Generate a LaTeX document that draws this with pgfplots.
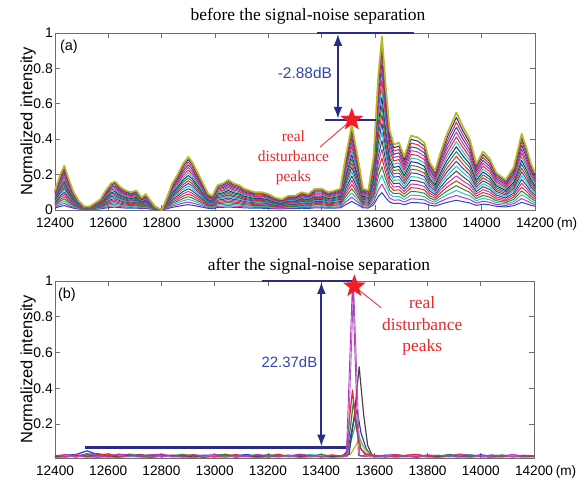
\documentclass[border=0pt]{standalone}
\usepackage{pgfplots}
\pgfplotsset{compat=1.18}
\usepackage{pgfplotstable}
\usepackage{fontspec}
\setmainfont{Liberation Serif}
\setsansfont{Liberation Sans}
\usetikzlibrary{arrows.meta}

\definecolor{mblue}{RGB}{35,70,190}
\definecolor{mdblue}{RGB}{30,40,150}
\definecolor{mgreen}{RGB}{30,140,60}
\definecolor{mred}{RGB}{230,40,40}
\definecolor{mcyan}{RGB}{40,190,190}
\definecolor{mmag}{RGB}{190,50,190}
\definecolor{molive}{RGB}{185,185,40}
\definecolor{mgray}{RGB}{70,70,70}
\definecolor{mpurple}{RGB}{170,90,200}
\definecolor{navy}{RGB}{40,45,140}
\definecolor{lblue}{RGB}{50,70,170}
\definecolor{starred}{RGB}{240,30,40}
\definecolor{axgray}{RGB}{110,110,110}

\pgfdeclareplotmark{bigstar}{%
  \pgfpathmoveto{\pgfpointpolar{90}{12bp}}%
  \pgfpathlineto{\pgfpointpolar{126}{5bp}}%
  \pgfpathlineto{\pgfpointpolar{162}{12bp}}%
  \pgfpathlineto{\pgfpointpolar{198}{5bp}}%
  \pgfpathlineto{\pgfpointpolar{234}{12bp}}%
  \pgfpathlineto{\pgfpointpolar{270}{5bp}}%
  \pgfpathlineto{\pgfpointpolar{306}{12bp}}%
  \pgfpathlineto{\pgfpointpolar{342}{5bp}}%
  \pgfpathlineto{\pgfpointpolar{18}{12bp}}%
  \pgfpathlineto{\pgfpointpolar{54}{5bp}}%
  \pgfpathclose
  \pgfusepathqfill
}

\pgfplotsset{
  myax/.style={
    scale only axis, height=177bp,
    xmin=12400, xmax=14200,
    xtick={12400,12600,12800,13000,13200,13400,13600,13800,14000,14200},
    scaled x ticks=false,
    axis line style={draw=axgray, line width=0.8pt},
    tick style={draw=axgray, line width=0.6pt},
    major tick length=5bp,
    tick align=inside,
    xticklabel style={font=\fontsize{13.7}{16}\selectfont\sffamily, text=black, yshift=-4bp,
      /pgf/number format/fixed, /pgf/number format/precision=0},
    yticklabel style={font=\fontsize{14}{16}\selectfont\sffamily, text=black, inner sep=2bp},
    /pgf/number format/assume math mode=true,
    /pgf/number format/1000 sep={},
    clip=false,
    every axis plot/.append style={line width=1.0pt, line join=round},
  }
}

\pgfplotstableread{
x e f95 f90 f80 f70 f60 f50 f40 f30 f20 f10
12400 0.11 0.1045 0.099 0.088 0.077 0.066 0.055 0.044 0.033 0.022 0.011
12420 0.20 0.19 0.18 0.16 0.14 0.12 0.10 0.08 0.06 0.04 0.02
12435 0.25 0.2375 0.225 0.20 0.175 0.15 0.125 0.10 0.075 0.05 0.025
12450 0.18 0.171 0.162 0.144 0.126 0.108 0.09 0.072 0.054 0.036 0.018
12470 0.10 0.095 0.09 0.08 0.07 0.06 0.05 0.04 0.03 0.02 0.01
12490 0.05 0.0475 0.045 0.04 0.035 0.03 0.025 0.02 0.015 0.01 0.005
12510 0.02 0.019 0.018 0.016 0.014 0.012 0.01 0.008 0.006 0.004 0.002
12530 0.02 0.019 0.018 0.016 0.014 0.012 0.01 0.008 0.006 0.004 0.002
12550 0.04 0.038 0.036 0.032 0.028 0.024 0.02 0.016 0.012 0.008 0.004
12570 0.06 0.057 0.054 0.048 0.042 0.036 0.03 0.024 0.018 0.012 0.006
12590 0.11 0.1045 0.099 0.088 0.077 0.066 0.055 0.044 0.033 0.022 0.011
12610 0.15 0.1425 0.135 0.12 0.105 0.09 0.075 0.06 0.045 0.03 0.015
12625 0.16 0.152 0.144 0.128 0.112 0.096 0.08 0.064 0.048 0.032 0.016
12645 0.13 0.1235 0.117 0.104 0.091 0.078 0.065 0.052 0.039 0.026 0.013
12665 0.11 0.1045 0.099 0.088 0.077 0.066 0.055 0.044 0.033 0.022 0.011
12685 0.10 0.095 0.09 0.08 0.07 0.06 0.05 0.04 0.03 0.02 0.01
12705 0.11 0.1045 0.099 0.088 0.077 0.066 0.055 0.044 0.033 0.022 0.011
12725 0.07 0.0665 0.063 0.056 0.049 0.042 0.035 0.028 0.021 0.014 0.007
12740 0.09 0.0855 0.081 0.072 0.063 0.054 0.045 0.036 0.027 0.018 0.009
12755 0.06 0.057 0.054 0.048 0.042 0.036 0.03 0.024 0.018 0.012 0.006
12775 0.02 0.019 0.018 0.016 0.014 0.012 0.01 0.008 0.006 0.004 0.002
12800 0 0 0 0 0 0 0 0 0 0 0
12820 0.07 0.0665 0.063 0.056 0.049 0.042 0.035 0.028 0.021 0.014 0.007
12840 0.15 0.1425 0.135 0.12 0.105 0.09 0.075 0.06 0.045 0.03 0.015
12860 0.20 0.19 0.18 0.16 0.14 0.12 0.10 0.08 0.06 0.04 0.02
12880 0.26 0.247 0.234 0.208 0.182 0.156 0.13 0.104 0.078 0.052 0.026
12900 0.30 0.285 0.27 0.24 0.21 0.18 0.15 0.12 0.09 0.06 0.03
12915 0.27 0.2565 0.243 0.216 0.189 0.162 0.135 0.108 0.081 0.054 0.027
12935 0.21 0.1995 0.189 0.168 0.147 0.126 0.105 0.084 0.063 0.042 0.021
12955 0.15 0.1425 0.135 0.12 0.105 0.09 0.075 0.06 0.045 0.03 0.015
12975 0.09 0.0855 0.081 0.072 0.063 0.054 0.045 0.036 0.027 0.018 0.009
12990 0.08 0.076 0.072 0.064 0.056 0.048 0.04 0.032 0.024 0.016 0.008
13010 0.14 0.133 0.126 0.112 0.098 0.084 0.07 0.056 0.042 0.028 0.014
13030 0.15 0.1425 0.135 0.12 0.105 0.09 0.075 0.06 0.045 0.03 0.015
13050 0.17 0.1615 0.153 0.136 0.119 0.102 0.085 0.068 0.051 0.034 0.017
13070 0.15 0.1425 0.135 0.12 0.105 0.09 0.075 0.06 0.045 0.03 0.015
13090 0.14 0.133 0.126 0.112 0.098 0.084 0.07 0.056 0.042 0.028 0.014
13110 0.12 0.114 0.108 0.096 0.084 0.072 0.06 0.048 0.036 0.024 0.012
13130 0.11 0.1045 0.099 0.088 0.077 0.066 0.055 0.044 0.033 0.022 0.011
13150 0.10 0.095 0.09 0.08 0.07 0.06 0.05 0.04 0.03 0.02 0.01
13175 0.10 0.095 0.09 0.08 0.07 0.06 0.05 0.04 0.03 0.02 0.01
13200 0.09 0.0855 0.081 0.072 0.063 0.054 0.045 0.036 0.027 0.018 0.009
13225 0.07 0.0665 0.063 0.056 0.049 0.042 0.035 0.028 0.021 0.014 0.007
13250 0.06 0.057 0.054 0.048 0.042 0.036 0.03 0.024 0.018 0.012 0.006
13275 0.08 0.076 0.072 0.064 0.056 0.048 0.04 0.032 0.024 0.016 0.008
13300 0.08 0.076 0.072 0.064 0.056 0.048 0.04 0.032 0.024 0.016 0.008
13325 0.10 0.095 0.09 0.08 0.07 0.06 0.05 0.04 0.03 0.02 0.01
13350 0.09 0.0855 0.081 0.072 0.063 0.054 0.045 0.036 0.027 0.018 0.009
13375 0.12 0.114 0.108 0.096 0.084 0.072 0.06 0.048 0.036 0.024 0.012
13400 0.12 0.114 0.108 0.096 0.084 0.072 0.06 0.048 0.036 0.024 0.012
13425 0.10 0.095 0.09 0.08 0.07 0.06 0.05 0.04 0.03 0.02 0.01
13450 0.11 0.1045 0.099 0.088 0.077 0.066 0.055 0.044 0.033 0.022 0.011
13470 0.12 0.114 0.108 0.096 0.084 0.072 0.06 0.048 0.036 0.024 0.012
13490 0.30 0.285 0.27 0.24 0.21 0.18 0.15 0.12 0.09 0.06 0.03
13513 0.48 0.456 0.432 0.384 0.336 0.288 0.24 0.192 0.144 0.096 0.048
13535 0.30 0.285 0.27 0.24 0.21 0.18 0.15 0.12 0.09 0.06 0.03
13555 0.12 0.114 0.108 0.096 0.084 0.072 0.06 0.048 0.036 0.024 0.012
13575 0.11 0.1045 0.099 0.088 0.077 0.066 0.055 0.044 0.033 0.022 0.011
13595 0.30 0.285 0.27 0.24 0.21 0.18 0.15 0.12 0.09 0.06 0.03
13612 0.75 0.7125 0.675 0.60 0.525 0.45 0.375 0.30 0.225 0.15 0.075
13626 0.98 0.931 0.882 0.784 0.686 0.588 0.49 0.392 0.294 0.196 0.098
13640 0.70 0.665 0.63 0.56 0.49 0.42 0.35 0.28 0.21 0.14 0.07
13655 0.45 0.4275 0.405 0.36 0.315 0.27 0.225 0.18 0.135 0.09 0.045
13670 0.37 0.3515 0.333 0.296 0.259 0.222 0.185 0.148 0.111 0.074 0.037
13690 0.38 0.361 0.342 0.304 0.266 0.228 0.19 0.152 0.114 0.076 0.038
13710 0.30 0.285 0.27 0.24 0.21 0.18 0.15 0.12 0.09 0.06 0.03
13735 0.42 0.399 0.378 0.336 0.294 0.252 0.21 0.168 0.126 0.084 0.042
13760 0.41 0.3895 0.369 0.328 0.287 0.246 0.205 0.164 0.123 0.082 0.041
13785 0.38 0.361 0.342 0.304 0.266 0.228 0.19 0.152 0.114 0.076 0.038
13805 0.27 0.2565 0.243 0.216 0.189 0.162 0.135 0.108 0.081 0.054 0.027
13825 0.22 0.209 0.198 0.176 0.154 0.132 0.11 0.088 0.066 0.044 0.022
13845 0.32 0.304 0.288 0.256 0.224 0.192 0.16 0.128 0.096 0.064 0.032
13870 0.43 0.4085 0.387 0.344 0.301 0.258 0.215 0.172 0.129 0.086 0.043
13905 0.55 0.5225 0.495 0.44 0.385 0.33 0.275 0.22 0.165 0.11 0.055
13930 0.47 0.4465 0.423 0.376 0.329 0.282 0.235 0.188 0.141 0.094 0.047
13955 0.40 0.38 0.36 0.32 0.28 0.24 0.20 0.16 0.12 0.08 0.04
13980 0.26 0.247 0.234 0.208 0.182 0.156 0.13 0.104 0.078 0.052 0.026
14005 0.33 0.3135 0.297 0.264 0.231 0.198 0.165 0.132 0.099 0.066 0.033
14030 0.29 0.2755 0.261 0.232 0.203 0.174 0.145 0.116 0.087 0.058 0.029
14055 0.21 0.1995 0.189 0.168 0.147 0.126 0.105 0.084 0.063 0.042 0.021
14090 0.17 0.1615 0.153 0.136 0.119 0.102 0.085 0.068 0.051 0.034 0.017
14120 0.24 0.228 0.216 0.192 0.168 0.144 0.12 0.096 0.072 0.048 0.024
14150 0.43 0.4085 0.387 0.344 0.301 0.258 0.215 0.172 0.129 0.086 0.043
14170 0.34 0.323 0.306 0.272 0.238 0.204 0.17 0.136 0.102 0.068 0.034
14185 0.26 0.247 0.234 0.208 0.182 0.156 0.13 0.104 0.078 0.052 0.026
14200 0.21 0.1995 0.189 0.168 0.147 0.126 0.105 0.084 0.063 0.042 0.021
}\tabA

\pgfplotstableread{
x g85 g75 g65 g55 g45 g35 g25 g15
12400 0.0935 0.0825 0.0715 0.0605 0.0495 0.0385 0.0275 0.0165
12420 0.17 0.15 0.13 0.11 0.09 0.07 0.05 0.03
12435 0.2125 0.1875 0.1625 0.1375 0.1125 0.0875 0.0625 0.0375
12450 0.153 0.135 0.117 0.099 0.081 0.063 0.045 0.027
12470 0.085 0.075 0.065 0.055 0.045 0.035 0.025 0.015
12490 0.0425 0.0375 0.0325 0.0275 0.0225 0.0175 0.0125 0.0075
12510 0.017 0.015 0.013 0.011 0.009 0.007 0.005 0.003
12530 0.017 0.015 0.013 0.011 0.009 0.007 0.005 0.003
12550 0.034 0.03 0.026 0.022 0.018 0.014 0.01 0.006
12570 0.051 0.045 0.039 0.033 0.027 0.021 0.015 0.009
12590 0.0935 0.0825 0.0715 0.0605 0.0495 0.0385 0.0275 0.0165
12610 0.1275 0.1125 0.0975 0.0825 0.0675 0.0525 0.0375 0.0225
12625 0.136 0.12 0.104 0.088 0.072 0.056 0.04 0.024
12645 0.1105 0.0975 0.0845 0.0715 0.0585 0.0455 0.0325 0.0195
12665 0.0935 0.0825 0.0715 0.0605 0.0495 0.0385 0.0275 0.0165
12685 0.085 0.075 0.065 0.055 0.045 0.035 0.025 0.015
12705 0.0935 0.0825 0.0715 0.0605 0.0495 0.0385 0.0275 0.0165
12725 0.0595 0.0525 0.0455 0.0385 0.0315 0.0245 0.0175 0.0105
12740 0.0765 0.0675 0.0585 0.0495 0.0405 0.0315 0.0225 0.0135
12755 0.051 0.045 0.039 0.033 0.027 0.021 0.015 0.009
12775 0.017 0.015 0.013 0.011 0.009 0.007 0.005 0.003
12800 0 0 0 0 0 0 0 0
12820 0.0595 0.0525 0.0455 0.0385 0.0315 0.0245 0.0175 0.0105
12840 0.1275 0.1125 0.0975 0.0825 0.0675 0.0525 0.0375 0.0225
12860 0.17 0.15 0.13 0.11 0.09 0.07 0.05 0.03
12880 0.221 0.195 0.169 0.143 0.117 0.091 0.065 0.039
12900 0.255 0.225 0.195 0.165 0.135 0.105 0.075 0.045
12915 0.2295 0.2025 0.1755 0.1485 0.1215 0.0945 0.0675 0.0405
12935 0.1785 0.1575 0.1365 0.1155 0.0945 0.0735 0.0525 0.0315
12955 0.1275 0.1125 0.0975 0.0825 0.0675 0.0525 0.0375 0.0225
12975 0.0765 0.0675 0.0585 0.0495 0.0405 0.0315 0.0225 0.0135
12990 0.068 0.06 0.052 0.044 0.036 0.028 0.02 0.012
13010 0.119 0.105 0.091 0.077 0.063 0.049 0.035 0.021
13030 0.1275 0.1125 0.0975 0.0825 0.0675 0.0525 0.0375 0.0225
13050 0.1445 0.1275 0.1105 0.0935 0.0765 0.0595 0.0425 0.0255
13070 0.1275 0.1125 0.0975 0.0825 0.0675 0.0525 0.0375 0.0225
13090 0.119 0.105 0.091 0.077 0.063 0.049 0.035 0.021
13110 0.102 0.09 0.078 0.066 0.054 0.042 0.03 0.018
13130 0.0935 0.0825 0.0715 0.0605 0.0495 0.0385 0.0275 0.0165
13150 0.085 0.075 0.065 0.055 0.045 0.035 0.025 0.015
13175 0.085 0.075 0.065 0.055 0.045 0.035 0.025 0.015
13200 0.0765 0.0675 0.0585 0.0495 0.0405 0.0315 0.0225 0.0135
13225 0.0595 0.0525 0.0455 0.0385 0.0315 0.0245 0.0175 0.0105
13250 0.051 0.045 0.039 0.033 0.027 0.021 0.015 0.009
13275 0.068 0.06 0.052 0.044 0.036 0.028 0.02 0.012
13300 0.068 0.06 0.052 0.044 0.036 0.028 0.02 0.012
13325 0.085 0.075 0.065 0.055 0.045 0.035 0.025 0.015
13350 0.0765 0.0675 0.0585 0.0495 0.0405 0.0315 0.0225 0.0135
13375 0.102 0.09 0.078 0.066 0.054 0.042 0.03 0.018
13400 0.102 0.09 0.078 0.066 0.054 0.042 0.03 0.018
13425 0.085 0.075 0.065 0.055 0.045 0.035 0.025 0.015
13450 0.0935 0.0825 0.0715 0.0605 0.0495 0.0385 0.0275 0.0165
13470 0.102 0.09 0.078 0.066 0.054 0.042 0.03 0.018
13490 0.255 0.225 0.195 0.165 0.135 0.105 0.075 0.045
13513 0.408 0.36 0.312 0.264 0.216 0.168 0.12 0.072
13535 0.255 0.225 0.195 0.165 0.135 0.105 0.075 0.045
13555 0.102 0.09 0.078 0.066 0.054 0.042 0.03 0.018
13575 0.0935 0.0825 0.0715 0.0605 0.0495 0.0385 0.0275 0.0165
13595 0.255 0.225 0.195 0.165 0.135 0.105 0.075 0.045
13612 0.6375 0.5625 0.4875 0.4125 0.3375 0.2625 0.1875 0.1125
13626 0.833 0.735 0.637 0.539 0.441 0.343 0.245 0.147
13640 0.595 0.525 0.455 0.385 0.315 0.245 0.175 0.105
13655 0.3825 0.3375 0.2925 0.2475 0.2025 0.1575 0.1125 0.0675
13670 0.3145 0.2775 0.2405 0.2035 0.1665 0.1295 0.0925 0.0555
13690 0.323 0.285 0.247 0.209 0.171 0.133 0.095 0.057
13710 0.255 0.225 0.195 0.165 0.135 0.105 0.075 0.045
13735 0.357 0.315 0.273 0.231 0.189 0.147 0.105 0.063
13760 0.3485 0.3075 0.2665 0.2255 0.1845 0.1435 0.1025 0.0615
13785 0.323 0.285 0.247 0.209 0.171 0.133 0.095 0.057
13805 0.2295 0.2025 0.1755 0.1485 0.1215 0.0945 0.0675 0.0405
13825 0.187 0.165 0.143 0.121 0.099 0.077 0.055 0.033
13845 0.272 0.24 0.208 0.176 0.144 0.112 0.08 0.048
13870 0.3655 0.3225 0.2795 0.2365 0.1935 0.1505 0.1075 0.0645
13905 0.4675 0.4125 0.3575 0.3025 0.2475 0.1925 0.1375 0.0825
13930 0.3995 0.3525 0.3055 0.2585 0.2115 0.1645 0.1175 0.0705
13955 0.34 0.30 0.26 0.22 0.18 0.14 0.10 0.06
13980 0.221 0.195 0.169 0.143 0.117 0.091 0.065 0.039
14005 0.2805 0.2475 0.2145 0.1815 0.1485 0.1155 0.0825 0.0495
14030 0.2465 0.2175 0.1885 0.1595 0.1305 0.1015 0.0725 0.0435
14055 0.1785 0.1575 0.1365 0.1155 0.0945 0.0735 0.0525 0.0315
14090 0.1445 0.1275 0.1105 0.0935 0.0765 0.0595 0.0425 0.0255
14120 0.204 0.18 0.156 0.132 0.108 0.084 0.06 0.036
14150 0.3655 0.3225 0.2795 0.2365 0.1935 0.1505 0.1075 0.0645
14170 0.289 0.255 0.221 0.187 0.153 0.119 0.085 0.051
14185 0.221 0.195 0.169 0.143 0.117 0.091 0.065 0.039
14200 0.1785 0.1575 0.1365 0.1155 0.0945 0.0735 0.0525 0.0315
}\tabB

\begin{document}
\begin{tikzpicture}
\useasboundingbox (0,0) rectangle (585bp,484bp);

% ---------------- panel (a)
\begin{axis}[myax, at={(55bp,274bp)}, anchor=south west, width=480bp,
  ymin=0, ymax=1, ytick={0,0.2,0.4,0.6,0.8,1}]
\addplot[mblue]   table[x=x,y=f10]{\tabA};
\addplot[mmag]    table[x=x,y=g15]{\tabB};
\addplot[mcyan]   table[x=x,y=f20]{\tabA};
\addplot[mgreen]  table[x=x,y=g25]{\tabB};
\addplot[mred]    table[x=x,y=f30]{\tabA};
\addplot[mmag]    table[x=x,y=g35]{\tabB};
\addplot[mgray]   table[x=x,y=f40]{\tabA};
\addplot[mcyan]   table[x=x,y=g45]{\tabB};
\addplot[mblue]   table[x=x,y=f50]{\tabA};
\addplot[mred]    table[x=x,y=g55]{\tabB};
\addplot[mgreen]  table[x=x,y=f60]{\tabA};
\addplot[mdblue]  table[x=x,y=g65]{\tabB};
\addplot[mcyan]   table[x=x,y=f70]{\tabA};
\addplot[mred]    table[x=x,y=g75]{\tabB};
\addplot[mmag]    table[x=x,y=f80]{\tabA};
\addplot[mblue]   table[x=x,y=g85]{\tabB};
\addplot[mred]    table[x=x,y=f90]{\tabA};
\addplot[mdblue]  table[x=x,y=f95]{\tabA};
\addplot[molive, line width=1.8pt] table[x=x,y=e]{\tabA};

\draw[navy, line width=2.2pt] (axis cs:13382,1) -- (axis cs:13746,1);
\draw[navy, line width=2.2pt] (axis cs:13412,0.51) -- (axis cs:13604,0.51);
\draw[navy, line width=2pt, {Latex[length=12bp,width=9bp]}-{Latex[length=12bp,width=9bp]}]
  (axis cs:13461,0.995) -- (axis cs:13461,0.515);
\draw[starred, line width=0.8pt] (axis cs:13513,0.51) -- (axis cs:13394,0.356);
\addplot[only marks, mark=bigstar, color=starred, mark options={fill=starred, draw=none}]
  coordinates {(13513,0.51)};

\node[text=lblue, font=\fontsize{15.5}{17}\selectfont\sffamily] at (axis cs:13337,0.774) {-2.88dB};
\node[text=mred, font=\fontsize{15.5}{20}\selectfont, align=center] at (axis cs:13294,0.294) {real\\disturbance\\peaks};
\node[font=\fontsize{14.5}{16}\selectfont\sffamily] at (axis cs:12452,0.92) {(a)};
\node[anchor=north, yshift=-4bp, font=\fontsize{13.7}{16}\selectfont\sffamily] at ([xshift=32bp]rel axis cs:1,0) {(m)};
\node[rotate=90, font=\fontsize{16.5}{18}\selectfont\sffamily] at ([xshift=-27bp]rel axis cs:0,0.5) {Normalized intensity};
\end{axis}

% ---------------- panel (b)
\begin{axis}[myax, at={(55bp,26bp)}, anchor=south west, width=479bp,
  ymin=0.01, ymax=1, ytick={0.2,0.4,0.6,0.8,1},
  every axis plot/.append style={line width=1.2pt}]
\addplot[mblue] coordinates {(12400,0.020) (12440,0.025) (12480,0.030) (12520,0.050) (12560,0.030) (12600,0.020) (12640,0.028) (12680,0.022) (12720,0.030) (12760,0.018) (12800,0.025) (12840,0.020) (12880,0.017) (12920,0.024) (12960,0.020) (13000,0.026) (13040,0.018) (13080,0.022) (13120,0.030) (13160,0.020) (13200,0.025) (13240,0.018) (13280,0.022) (13320,0.028) (13360,0.020) (13400,0.024) (13440,0.020) (13480,0.022) (13500,0.05) (13520,0.20) (13535,0.28) (13550,0.15) (13570,0.06) (13585,0.03) (13600,0.020) (13640,0.025) (13680,0.018) (13720,0.022) (13760,0.027) (13800,0.020) (13840,0.024) (13880,0.018) (13920,0.025) (13960,0.020) (14000,0.028) (14040,0.020) (14080,0.024) (14120,0.018) (14160,0.022) (14200,0.020)};
\addplot[mgreen] coordinates {(12400,0.018) (12440,0.022) (12480,0.015) (12520,0.030) (12560,0.035) (12600,0.024) (12640,0.019) (12680,0.032) (12720,0.021) (12760,0.027) (12800,0.016) (12840,0.023) (12880,0.030) (12920,0.020) (12960,0.014) (13000,0.025) (13040,0.031) (13080,0.019) (13120,0.024) (13160,0.017) (13200,0.029) (13240,0.022) (13280,0.026) (13320,0.015) (13360,0.021) (13400,0.030) (13440,0.019) (13480,0.024) (13495,0.03) (13510,0.18) (13522,0.33) (13535,0.18) (13550,0.06) (13570,0.03) (13600,0.022) (13640,0.017) (13680,0.028) (13720,0.021) (13760,0.016) (13800,0.026) (13840,0.019) (13880,0.030) (13920,0.022) (13960,0.015) (14000,0.024) (14040,0.020) (14080,0.027) (14120,0.018) (14160,0.023) (14200,0.020)};
\addplot[mcyan] coordinates {(12400,0.015) (12440,0.020) (12480,0.024) (12520,0.018) (12560,0.022) (12600,0.016) (12640,0.026) (12680,0.021) (12720,0.017) (12760,0.030) (12800,0.019) (12840,0.025) (12880,0.021) (12920,0.016) (12960,0.027) (13000,0.020) (13040,0.023) (13080,0.017) (13120,0.022) (13160,0.028) (13200,0.018) (13240,0.021) (13280,0.025) (13320,0.019) (13360,0.030) (13400,0.017) (13440,0.022) (13480,0.020) (13500,0.03) (13515,0.12) (13530,0.20) (13545,0.12) (13560,0.07) (13580,0.03) (13600,0.019) (13640,0.024) (13680,0.028) (13720,0.017) (13760,0.022) (13800,0.020) (13840,0.026) (13880,0.018) (13920,0.023) (13960,0.030) (14000,0.019) (14040,0.021) (14080,0.025) (14120,0.017) (14160,0.024) (14200,0.018)};
\addplot[molive] coordinates {(12400,0.017) (12440,0.021) (12480,0.019) (12520,0.025) (12560,0.016) (12600,0.020) (12640,0.023) (12680,0.018) (12720,0.026) (12760,0.017) (12800,0.021) (12840,0.019) (12880,0.024) (12920,0.016) (12960,0.020) (13000,0.022) (13040,0.017) (13080,0.026) (13120,0.021) (13160,0.016) (13200,0.019) (13240,0.024) (13280,0.018) (13320,0.021) (13360,0.016) (13400,0.023) (13440,0.018) (13480,0.020) (13510,0.03) (13530,0.08) (13545,0.12) (13560,0.07) (13580,0.03) (13600,0.020) (13640,0.023) (13680,0.018) (13720,0.021) (13760,0.025) (13800,0.017) (13840,0.020) (13880,0.022) (13920,0.018) (13960,0.024) (14000,0.019) (14040,0.021) (14080,0.017) (14120,0.023) (14160,0.019) (14200,0.021)};
\addplot[mgray] coordinates {(12400,0.020) (12440,0.016) (12480,0.023) (12520,0.019) (12560,0.015) (12600,0.021) (12640,0.017) (12680,0.024) (12720,0.018) (12760,0.014) (12800,0.020) (12840,0.026) (12880,0.017) (12920,0.021) (12960,0.016) (13000,0.019) (13040,0.024) (13080,0.015) (13120,0.020) (13160,0.018) (13200,0.016) (13240,0.022) (13280,0.019) (13320,0.017) (13360,0.023) (13400,0.016) (13440,0.020) (13480,0.018) (13505,0.03) (13525,0.25) (13543,0.52) (13560,0.25) (13575,0.08) (13590,0.03) (13600,0.018) (13640,0.016) (13680,0.021) (13720,0.019) (13760,0.015) (13800,0.022) (13840,0.017) (13880,0.020) (13920,0.016) (13960,0.023) (14000,0.018) (14040,0.015) (14080,0.020) (14120,0.017) (14160,0.021) (14200,0.018)};
\addplot[mred] coordinates {(12400,0.025) (12440,0.017) (12480,0.028) (12520,0.021) (12560,0.026) (12600,0.033) (12640,0.020) (12680,0.018) (12720,0.027) (12760,0.022) (12800,0.030) (12840,0.016) (12880,0.024) (12920,0.028) (12960,0.021) (13000,0.017) (13040,0.023) (13080,0.029) (13120,0.019) (13160,0.026) (13200,0.020) (13240,0.031) (13280,0.017) (13320,0.024) (13360,0.022) (13400,0.018) (13440,0.027) (13480,0.021) (13495,0.04) (13508,0.25) (13518,0.39) (13530,0.20) (13545,0.07) (13565,0.03) (13600,0.025) (13640,0.021) (13680,0.018) (13720,0.026) (13760,0.030) (13800,0.019) (13840,0.023) (13880,0.020) (13920,0.028) (13960,0.024) (14000,0.017) (14040,0.026) (14080,0.021) (14120,0.019) (14160,0.025) (14200,0.022)};
\addplot[mpurple, line width=0.9pt] coordinates {(12400,0.013) (12440,0.016) (12480,0.020) (12520,0.014) (12560,0.018) (12600,0.015) (12640,0.013) (12680,0.019) (12720,0.016) (12760,0.014) (12800,0.020) (12840,0.017) (12880,0.015) (12920,0.013) (12960,0.018) (13000,0.016) (13040,0.014) (13080,0.020) (13120,0.016) (13160,0.013) (13200,0.017) (13240,0.015) (13280,0.019) (13320,0.014) (13360,0.016) (13400,0.018) (13440,0.013) (13480,0.016) (13500,0.02) (13522,0.98) (13545,0.02) (13600,0.015) (13640,0.018) (13680,0.014) (13720,0.017) (13760,0.020) (13800,0.015) (13840,0.013) (13880,0.018) (13920,0.016) (13960,0.014) (14000,0.019) (14040,0.016) (14080,0.015) (14120,0.018) (14160,0.014) (14200,0.016)};
\addplot[mmag, line width=0.9pt] coordinates {(12400,0.022) (12440,0.030) (12480,0.020) (12520,0.035) (12560,0.025) (12600,0.018) (12640,0.033) (12680,0.026) (12720,0.021) (12760,0.028) (12800,0.032) (12840,0.022) (12880,0.019) (12920,0.027) (12960,0.024) (13000,0.030) (13040,0.021) (13080,0.025) (13120,0.018) (13160,0.030) (13200,0.023) (13240,0.026) (13280,0.020) (13320,0.032) (13360,0.024) (13400,0.019) (13440,0.026) (13480,0.022) (13495,0.025) (13518,1.0) (13540,0.025) (13600,0.020) (13640,0.026) (13680,0.030) (13720,0.022) (13760,0.018) (13800,0.027) (13840,0.024) (13880,0.020) (13920,0.033) (13960,0.025) (14000,0.019) (14040,0.027) (14080,0.022) (14120,0.030) (14160,0.021) (14200,0.024)};

\draw[navy, line width=2.2pt] (axis cs:13176,1) -- (axis cs:13517,1);
\draw[navy, line width=2.2pt] (axis cs:12512,0.069) -- (axis cs:13495,0.069);
\draw[navy, line width=2pt, {Latex[length=12bp,width=9bp]}-{Latex[length=12bp,width=9bp]}]
  (axis cs:13401,0.995) -- (axis cs:13401,0.074);
\draw[starred, line width=0.8pt] (axis cs:13525,0.97) -- (axis cs:13626,0.85);
\addplot[only marks, mark=bigstar, color=starred, mark options={fill=starred, draw=none}]
  coordinates {(13525,0.97)};

\node[text=lblue, font=\fontsize{15}{17}\selectfont\sffamily] at (axis cs:13281,0.548) {22.37dB};
\node[text=mred, font=\fontsize{17.5}{21.5}\selectfont, align=center] at (axis cs:13780,0.749) {real\\disturbance\\peaks};
\node[font=\fontsize{14.5}{16}\selectfont\sffamily] at (axis cs:12445,0.922) {(b)};
\node[anchor=north, yshift=-4bp, font=\fontsize{13.7}{16}\selectfont\sffamily] at ([xshift=32bp]rel axis cs:1,0) {(m)};
\node[rotate=90, font=\fontsize{16.5}{18}\selectfont\sffamily] at ([xshift=-27bp]rel axis cs:0,0.5) {Normalized intensity};
\end{axis}

\node[font=\fontsize{17.5}{20}\selectfont] at (308bp,468bp) {before the signal-noise separation};
\node[font=\fontsize{17.5}{20}\selectfont] at (319bp,218bp) {after the signal-noise separation};
\end{tikzpicture}
\end{document}
